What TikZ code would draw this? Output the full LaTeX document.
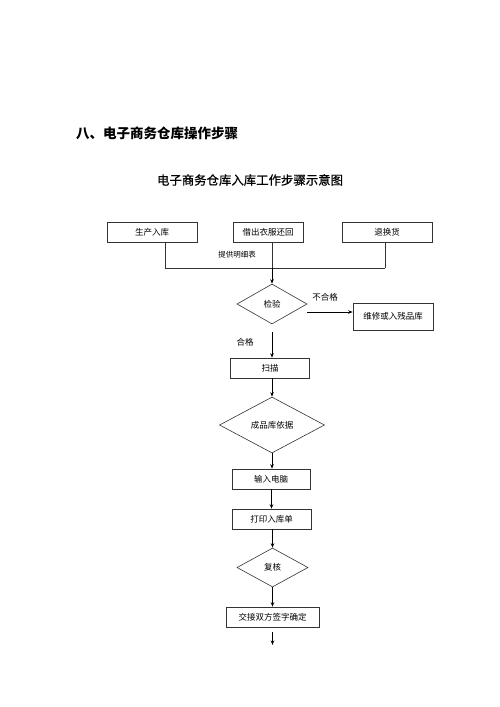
\documentclass[tikz,border=0pt]{standalone}
\usepackage{fontspec}
\setmainfont{Noto Sans CJK SC}
\newfontfamily\medfont{Noto Sans CJK SC}[FakeBold=0.5]
\usetikzlibrary{arrows.meta,shapes.geometric}

\begin{document}
\begin{tikzpicture}[x=1pt,y=-1pt,
		box/.style={draw=black!80,line width=0.6pt,minimum height=20pt,inner sep=0pt,font=\fontsize{8.5}{10}\selectfont},
		check/.style={draw=black!80,line width=0.6pt,diamond,inner sep=0pt,font=\fontsize{8.5}{10}\selectfont},
		note/.style={inner sep=0pt,font=\fontsize{8.5}{10}\selectfont},
		arr/.style={-{Stealth[length=4.5pt,width=3.5pt]},line width=0.8pt},
		bus/.style={line width=0.6pt,draw=black!80}]
	\useasboundingbox (0,0) rectangle (500,707);
	\node[anchor=west,inner sep=0pt,font=\fontsize{13.5}{15}\selectfont\bfseries] (title) at (76,133) {八、电子商务仓库操作步骤};
	\node[inner sep=0pt,font=\fontsize{12.4}{15}\selectfont\medfont] (subtitle) at (250,180) {电子商务仓库入库工作步骤示意图};
	\node[box,minimum width=90pt] (produce) at (152,232) {生产入库};
	\node[box,minimum width=70pt] (lend) at (268,232) {借出衣服还回};
	\node[box,minimum width=90pt] (retour) at (387,232) {退换货};
	\coordinate (b1) at (165,268);
	\coordinate (b2) at (272,268);
	\coordinate (b3) at (385,268);
	\draw[bus] (b1 |- produce.south) -- (b1);
	\draw[bus] (b2 |- lend.south) -- (b2);
	\draw[bus] (b3 |- retour.south) -- (b3);
	\draw[bus] (b1) -- (b3);
	\node[inner sep=0pt,font=\fontsize{7.5}{9}\selectfont] (list) at (237,255) {提供明细表};
	\node[check,minimum width=70pt,minimum height=40pt] (inspect) at (272,304) {检验};
	\node[box,minimum width=80pt,minimum height=27pt] (repair) at (393,316.5) {维修或入残品库};
	\node[box,minimum width=79pt] (scan) at (270,368) {扫描};
	\node[check,minimum width=105pt,minimum height=56pt] (basis) at (272,425) {成品库依据};
	\node[box,minimum width=78pt] (input) at (271,479) {输入电脑};
	\node[box,minimum width=79pt] (print) at (271.5,519) {打印入库单};
	\node[check,minimum width=71pt,minimum height=39pt] (review) at (272.5,567.5) {复核};
	\node[box,minimum width=93pt] (sign) at (272.5,617) {交接双方签字确定};
	\coordinate (out) at (272.5,645);
	\node[note] (fail) at (325,297) {不合格};
	\node[note] (pass) at (245,342) {合格};
	\draw[arr] (b2) -- (inspect.north);
	\draw[arr] ([yshift=-8pt]inspect.east) -- ([yshift=-8pt]inspect.east -| repair.west);
	\draw[arr] ([yshift=-8pt]inspect.south) -- (inspect.south |- scan.north);
	\draw[arr] (basis.north |- scan.south) -- (basis.north);
	\draw[arr] (basis.south) -- (basis.south |- input.north);
	\draw[arr] (input.south -| print.north) -- (print.north);
	\draw[arr] (review.north |- print.south) -- (review.north);
	\draw[arr] (review.south) -- (sign.north);
	\draw[arr] ([yshift=-5pt]sign.south) -- (out);
\end{tikzpicture}
\end{document}
